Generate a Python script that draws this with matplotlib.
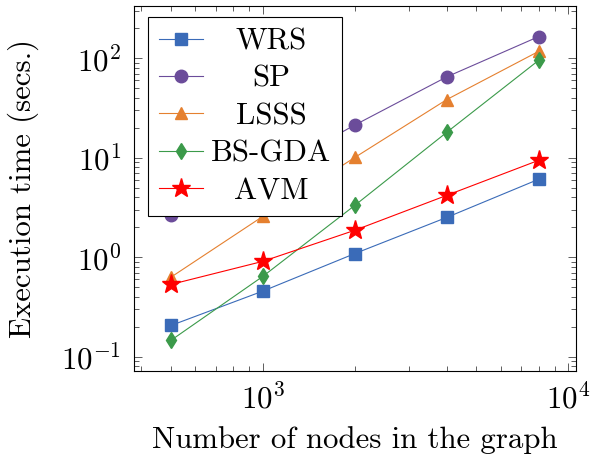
import matplotlib
matplotlib.use("Agg")
import matplotlib.pyplot as plt

# Data
nodes = [500, 1000, 2000, 4000, 8000]
wrs = [0.206, 0.457, 1.09, 2.52, 6.1]
sp = [2.68, 6.6, 21.4, 65.3, 166]
lsss = [0.63, 2.58, 10.1, 38.6, 118]
bs_gda = [0.146, 0.643, 3.33, 18.1, 96]
avm = [0.533, 0.91, 1.87, 4.2, 9.46]

plt.rcParams['font.family'] = 'serif'
plt.rcParams['font.serif'] = ['cmr10']
plt.rcParams['mathtext.fontset'] = 'cm'
plt.rcParams['axes.formatter.use_mathtext'] = True
plt.rcParams['font.size'] = 22.2


def plot_execution_times():
    fig = plt.figure(figsize=(5.9, 4.62), dpi=100)
    ax = fig.add_axes([0.227, 0.1976, 0.749, 0.7894])

    ax.plot(nodes, wrs, label="WRS", color='#3a6bb8', marker='s', markersize=8.5, linewidth=0.8)
    ax.plot(nodes, sp, label="SP", color='#6b4c9a', marker='o', markersize=9, linewidth=0.8)
    ax.plot(nodes, lsss, label="LSSS", color='#e5802f', marker='^', markersize=9, linewidth=0.8)
    ax.plot(nodes, bs_gda, label="BS-GDA", color='#3b9a4a', marker='d', markersize=8, linewidth=0.8)
    ax.plot(nodes, avm, label="AVM", color='#ff0000', marker='*', markersize=14, linewidth=0.8)

    ax.set_xscale('log')
    ax.set_yscale('log')
    ax.set_xlim(378.4, 10570)
    ax.set_ylim(0.0723, 336.5)

    ax.tick_params(which='both', direction='in', top=True, right=True, color='#444444', width=0.6)
    ax.tick_params(which='major', length=6, pad=9)
    ax.tick_params(which='minor', length=3.5)
    for spine in ax.spines.values():
        spine.set_linewidth(0.8)

    ax.set_xlabel("Number of nodes in the graph", labelpad=8)
    ax.set_ylabel("Execution time (secs.)", labelpad=16)

    leg = ax.legend(loc='upper left', bbox_to_anchor=(0.0324, 0.969), borderaxespad=0,
                    fancybox=False, framealpha=1, edgecolor='black', handlelength=1.45,
                    handletextpad=0.25, borderpad=0.34, labelspacing=0.32)
    leg.get_frame().set_linewidth(0.8)

    # centre the legend entries like the original
    fig.canvas.draw()
    widths = [t.get_window_extent().width for t in leg.get_texts()]
    max_w = max(widths)
    for t, w in zip(leg.get_texts(), widths):
        t.set_position(((max_w - w) / 2, 0))

    plt.savefig("out.png", dpi=100)
    plt.close()


def main():
    plot_execution_times()


if __name__ == "__main__":
    main()
